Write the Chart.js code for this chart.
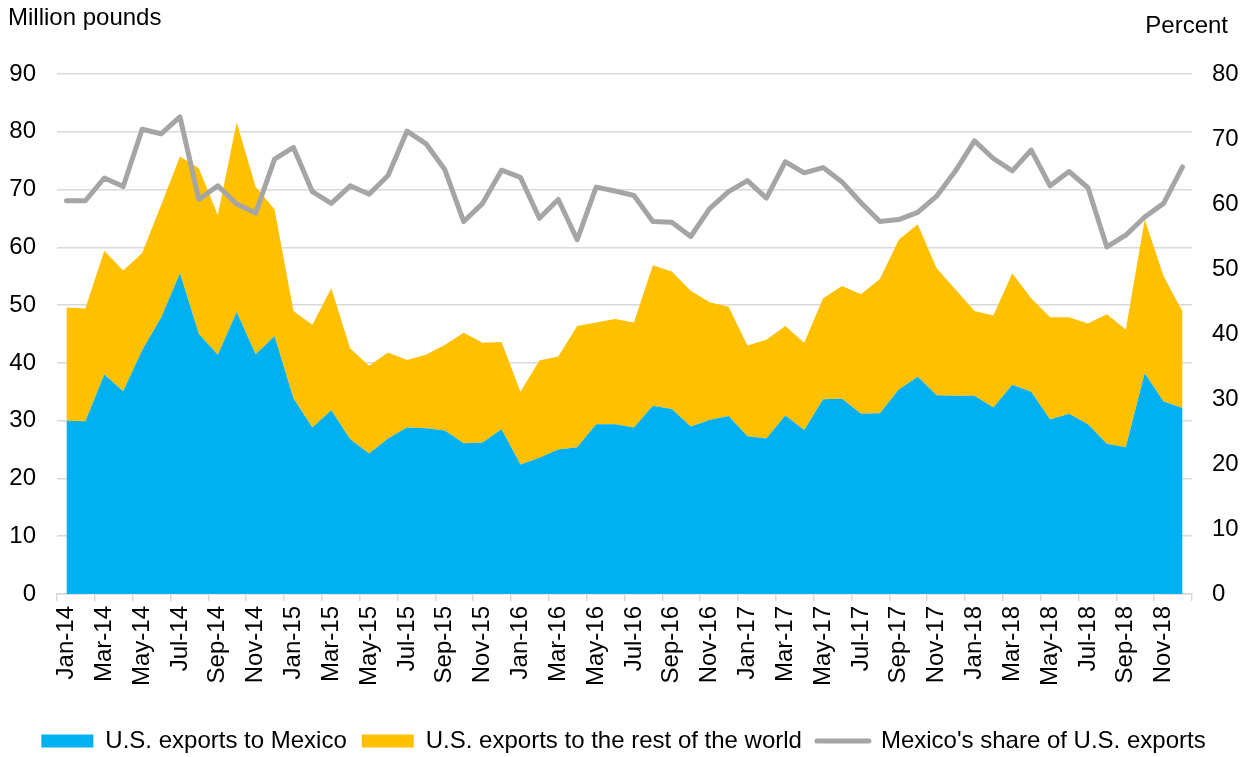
<!DOCTYPE html>
<html>
<head>
<meta charset="utf-8">
<script src="https://cdn.jsdelivr.net/npm/chart.js@4.4.1/dist/chart.umd.min.js"></script>
<style>
  html, body { margin: 0; padding: 0; background: #fff; }
  #wrap { width: 1247px; height: 757px; }
</style>
</head>
<body>
<div id="wrap"><canvas id="chart"></canvas></div>
<script>
// Monthly labels, Jan-14 .. Dec-18
const months = [
  'Jan-14', 'Feb-14', 'Mar-14', 'Apr-14', 'May-14', 'Jun-14', 'Jul-14', 'Aug-14', 'Sep-14', 'Oct-14', 'Nov-14', 'Dec-14',
  'Jan-15', 'Feb-15', 'Mar-15', 'Apr-15', 'May-15', 'Jun-15', 'Jul-15', 'Aug-15', 'Sep-15', 'Oct-15', 'Nov-15', 'Dec-15',
  'Jan-16', 'Feb-16', 'Mar-16', 'Apr-16', 'May-16', 'Jun-16', 'Jul-16', 'Aug-16', 'Sep-16', 'Oct-16', 'Nov-16', 'Dec-16',
  'Jan-17', 'Feb-17', 'Mar-17', 'Apr-17', 'May-17', 'Jun-17', 'Jul-17', 'Aug-17', 'Sep-17', 'Oct-17', 'Nov-17', 'Dec-17',
  'Jan-18', 'Feb-18', 'Mar-18', 'Apr-18', 'May-18', 'Jun-18', 'Jul-18', 'Aug-18', 'Sep-18', 'Oct-18', 'Nov-18', 'Dec-18'
];

// Million pounds
const toMexico = [
  30.0, 29.9, 38.0, 35.1, 42.2, 47.8, 55.5, 45.0, 41.4, 48.8, 41.5, 44.6,
  33.9, 28.8, 31.8, 26.8, 24.3, 26.9, 28.8, 28.7, 28.3, 26.1, 26.2, 28.5,
  22.4, 23.6, 25.0, 25.4, 29.4, 29.4, 28.8, 32.6, 32.0, 29.0, 30.1, 30.8,
  27.3, 26.9, 30.9, 28.4, 33.7, 33.8, 31.2, 31.3, 35.4, 37.6, 34.4, 34.3,
  34.3, 32.3, 36.2, 35.0, 30.2, 31.2, 29.4, 26.0, 25.4, 38.2, 33.3, 32.2
];
const toRestOfWorld = [
  19.6, 19.5, 21.4, 20.9, 16.8, 19.5, 20.2, 28.7, 24.2, 32.8, 29.0, 22.0,
  15.1, 17.8, 21.1, 15.7, 15.2, 14.9, 11.7, 12.7, 14.8, 19.1, 17.3, 15.1,
  12.6, 16.8, 16.1, 21.0, 17.6, 18.2, 18.2, 24.3, 23.8, 23.5, 20.4, 18.9,
  15.7, 17.1, 15.5, 15.1, 17.5, 19.5, 20.7, 23.2, 25.9, 26.4, 22.0, 18.4,
  14.7, 15.9, 19.3, 16.2, 17.7, 16.7, 17.4, 22.4, 20.4, 26.6, 21.7, 16.7
];

// Percent
const mexicoShare = [
  60.5, 60.5, 64.0, 62.7, 71.5, 70.8, 73.4, 60.7, 62.8, 60.0, 58.6, 66.9,
  68.7, 61.9, 60.1, 62.8, 61.5, 64.4, 71.2, 69.3, 65.3, 57.3, 60.1, 65.2,
  64.1, 57.8, 60.7, 54.5, 62.6, 62.0, 61.3, 57.3, 57.2, 55.0, 59.3, 61.9,
  63.6, 60.9, 66.5, 64.8, 65.6, 63.4, 60.2, 57.3, 57.6, 58.7, 61.2, 65.1,
  69.7, 67.0, 65.1, 68.3, 62.8, 65.0, 62.5, 53.4, 55.2, 58.0, 60.1, 65.7
];

const BLUE = '#00B0F0';
const GOLD = '#FFC000';
const GREY = '#A5A5A5';
const GRID = '#D9D9D9';
const FONT = '"Liberation Sans", Arial, sans-serif';

Chart.defaults.font.family = FONT;
Chart.defaults.font.size = 24;
Chart.defaults.color = '#000';

// axis captions sit above the plot, not along the axes
const axisCaptions = {
  id: 'axisCaptions',
  afterDraw(chart) {
    const c = chart.ctx;
    c.save();
    c.font = '24px ' + FONT;
    c.fillStyle = '#000';
    c.textBaseline = 'alphabetic';
    c.textAlign = 'left';
    c.fillText('Million pounds', 8, 25);
    c.textAlign = 'right';
    c.fillText('Percent', 1228, 33);
    c.restore();
  }
};

new Chart(document.getElementById('chart'), {
  type: 'line',
  data: {
    labels: months,
    datasets: [
      {
        label: 'U.S. exports to Mexico',
        data: toMexico,
        yAxisID: 'y',
        backgroundColor: BLUE,
        borderColor: BLUE,
        borderWidth: 0,
        pointRadius: 0,
        fill: 'origin'
      },
      {
        label: 'U.S. exports to the rest of the world',
        data: toRestOfWorld,
        yAxisID: 'y',
        backgroundColor: GOLD,
        borderColor: GOLD,
        borderWidth: 0,
        pointRadius: 0,
        fill: '-1'
      },
      {
        label: "Mexico's share of U.S. exports",
        data: mexicoShare,
        yAxisID: 'y1',
        order: -1,
        backgroundColor: GREY,
        borderColor: GREY,
        borderWidth: 5,
        borderCapStyle: 'round',
        borderJoinStyle: 'round',
        pointRadius: 0,
        fill: false
      }
    ]
  },
  options: {
    responsive: true,
    maintainAspectRatio: false,
    animation: false,
    layout: { padding: { top: 74, left: 0, right: 0, bottom: -6 } },
    scales: {
      x: {
        type: 'category',
        offset: true,
        grid: {
          offset: true,
          drawOnChartArea: false,
          tickLength: 7,
          lineWidth: 1.5,
          tickColor: ctx => (ctx.index === undefined || ctx.index % 2 === 0) ? GRID : 'rgba(0,0,0,0)'
        },
        border: { color: GRID, width: 1.5 },
        ticks: {
          autoSkip: false,
          minRotation: 90,
          maxRotation: 90,
          padding: 5,
          callback(value, i) { return i % 2 === 0 ? this.getLabelForValue(value) : ''; }
        },
        afterFit(s) { s.height = 120; }
      },
      y: {
        position: 'left',
        stacked: true,
        min: 0,
        max: 90,
        ticks: { stepSize: 10, padding: 21 },
        grid: { color: GRID, lineWidth: 1.5, drawTicks: false },
        border: { display: false },
        afterFit(s) { s.width = 57; }
      },
      y1: {
        position: 'right',
        min: 0,
        max: 80,
        ticks: { stepSize: 10, padding: 20 },
        grid: { drawOnChartArea: false, drawTicks: false },
        border: { display: false },
        afterFit(s) { s.width = 55; }
      }
    },
    plugins: {
      tooltip: { enabled: false },
      legend: {
        position: 'bottom',
        labels: {
          usePointStyle: true,
          pointStyleWidth: 52,
          boxHeight: 13,
          padding: 15,
          font: { size: 24 },
          generateLabels: chart => chart.data.datasets.map((ds, i) => ({
            text: ds.label,
            fillStyle: ds.backgroundColor,
            strokeStyle: ds.borderColor,
            lineWidth: i === 2 ? 5 : 0,
            lineCap: 'round',
            pointStyle: i === 2 ? 'line' : 'rect',
            hidden: false,
            datasetIndex: i,
            fontColor: '#000'
          }))
        }
      }
    }
  },
  plugins: [axisCaptions]
});
</script>
</body>
</html>
